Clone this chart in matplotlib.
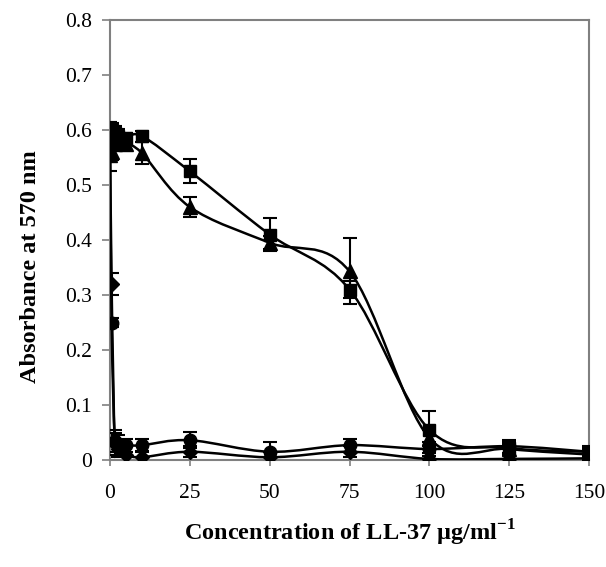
import matplotlib
matplotlib.use("Agg")
import matplotlib.pyplot as plt
from matplotlib.path import Path
from matplotlib.patches import PathPatch
import numpy as np

plt.rcParams['font.family'] = ['Liberation Serif', 'DejaVu Serif']
plt.rcParams['mathtext.fontset'] = 'custom'
plt.rcParams['mathtext.rm'] = 'Liberation Serif'
plt.rcParams['mathtext.bf'] = 'Liberation Serif:bold'

# concentration of LL-37 (ug/ml)
conc = [0, 0.5, 1.5, 2.5, 5, 10, 25, 50, 75, 100, 125, 150]

# absorbance readings, one list per series
sq_vals = [0.600, 0.600, 0.595, 0.590, 0.585, 0.589, 0.525, 0.410, 0.310, 0.055, 0.022, 0.015]
sq_err = [0.015, 0.012, 0.012, 0.012, 0.010, 0.010, 0.022, 0.030, 0.015, 0.035, 0.010, 0.010]
tri_vals = [0.555, 0.560, 0.575, 0.580, 0.575, 0.558, 0.460, 0.395, 0.343, 0.040, 0.020, 0.010]
tri_err = [0.030, 0.015, 0.012, 0.012, 0.012, 0.020, 0.018, 0.012, 0.060, 0.015, 0.010, 0.010]
dia_vals = [0.600, 0.320, 0.030, 0.020, 0.010, 0.005, 0.015, 0.005, 0.015, 0.002, 0.002, 0.003]
dia_err = [0.015, 0.020, 0.020, 0.015, 0.015, 0.012, 0.010, 0.010, 0.010, 0.010, 0.010, 0.008]
cir_vals = [0.580, 0.250, 0.035, 0.030, 0.027, 0.027, 0.036, 0.015, 0.027, 0.020, 0.025, 0.015]
cir_err = [0.015, 0.008, 0.020, 0.015, 0.012, 0.012, 0.015, 0.018, 0.012, 0.012, 0.012, 0.008]

xticks = [0, 25, 50, 75, 100, 125, 150]
yticks = [0, 0.1, 0.2, 0.3, 0.4, 0.5, 0.6, 0.7, 0.8]


def smooth_path(x, y):
    # excel-style smoothed line: cubic bezier through the points
    pts = np.column_stack([x, y]).astype(float)
    verts = [pts[0]]
    codes = [Path.MOVETO]
    n = len(pts)
    for i in range(n - 1):
        p0 = pts[i - 1] if i > 0 else pts[i]
        p1 = pts[i]
        p2 = pts[i + 1]
        p3 = pts[i + 2] if i + 2 < n else pts[i + 1]
        c1 = p1 + (p2 - p0) / 6.0
        c2 = p2 - (p3 - p1) / 6.0
        verts += [c1, c2, p2]
        codes += [Path.CURVE4] * 3
    return Path(verts, codes)


fig = plt.figure(figsize=(6.06, 5.67), dpi=100)
ax = fig.add_axes([0.1815, 0.1887, 0.7905, 0.776])

series = [
    (sq_vals, sq_err, 's', 9),
    (tri_vals, tri_err, '^', 10),
    (dia_vals, dia_err, 'D', 7),
    (cir_vals, cir_err, 'o', 9),
]
for vals, err, mk, ms in series:
    ax.add_patch(PathPatch(smooth_path(conc, vals), fill=False, edgecolor='black',
                           linewidth=1.8, zorder=3))
    ax.errorbar(conc, vals, yerr=err, fmt=mk, color='black', markersize=ms,
                ecolor='black', elinewidth=1.5, capsize=5, capthick=1.5, zorder=4)

ax.set_xlim(0, 150)
ax.set_ylim(0, 0.8)
ax.set_xticks(xticks)
ax.set_yticks(yticks)
ax.set_yticklabels(['0' if v == 0 else '%.1f' % v for v in yticks])
ax.tick_params(axis='both', labelsize=15.5, color='#808080', width=1.2)
ax.tick_params(axis='y', direction='out', length=6, pad=7)
ax.tick_params(axis='x', direction='inout', length=8, pad=13)
for s in ax.spines.values():
    s.set_color('#808080')
    s.set_linewidth(1.5)

ax.set_ylabel('Absorbance at 570 nm', fontsize=17.5, fontweight='bold')
ax.yaxis.set_label_coords(-0.143, 0.44)
ax.set_xlabel('Concentration of LL-37 µg/ml$^{\\mathbf{-1}}$',
              fontsize=17.5, fontweight='bold', labelpad=11)

fig.savefig('out.png', dpi=100)
